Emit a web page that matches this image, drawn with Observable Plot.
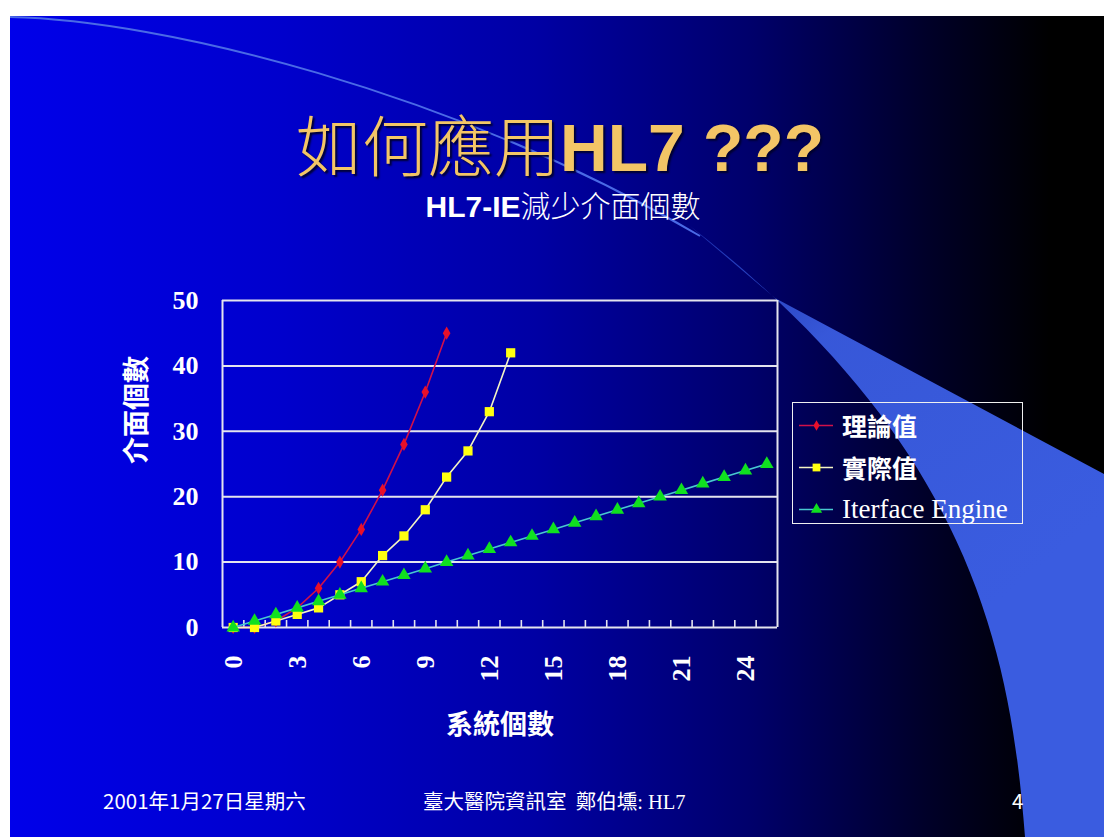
<!DOCTYPE html>
<html>
<head>
<meta charset="utf-8">
<script src="https://cdn.jsdelivr.net/npm/d3@7"></script>
<script src="https://cdn.jsdelivr.net/npm/@observablehq/plot@0.6"></script>
<style>
  html, body { margin: 0; padding: 0; background: #ffffff; }
  #page { position: relative; width: 1104px; height: 837px; overflow: hidden; background: #ffffff; }
  #slide {
    position: absolute; left: 10px; top: 16px; width: 1094px; height: 821px;
    background: linear-gradient(to right, #0000ea 0%, #0000cc 25%, #0000a4 48%, #00006a 68%, #000028 84%, #000000 95%);
  }
  #decor { position: absolute; left: 0; top: 0; }
  .txt { position: absolute; color: #ffffff; white-space: nowrap; }
  #title {
    left: 0; width: 1120px; top: 100px; text-align: center;
    font-size: 66px; line-height: 84px; color: #f3c566;
    text-shadow: 2px 2px 2px #000030;
  }
  #title .zh { font-family: "Noto Sans CJK TC"; font-weight: 300; }
  #title .en { font-family: "Liberation Sans", Arial, sans-serif; font-weight: bold; }
  #subtitle {
    left: 0; width: 1126px; top: 185px; text-align: center;
    font-size: 30px; line-height: 38px;
  }
  #subtitle .en { font-family: "Liberation Sans", Arial, sans-serif; font-weight: bold; }
  #subtitle .zh { font-family: "Noto Sans CJK TC"; font-weight: 300; }
  #chart { position: absolute; left: 0; top: 0; }
  #legend {
    position: absolute; left: 792px; top: 402px; width: 231px; height: 122px;
    border: 1.5px solid #f0f0f0; box-sizing: border-box;
  }
  #legend .row { position: absolute; left: 6px; height: 36px; display: flex; align-items: center; }
  #legend .lab { margin-left: 9px; color: #fff; font-size: 25px; }
  #legend .zh { font-family: "Noto Sans CJK TC"; font-weight: bold; }
  #legend .en { font-family: "Liberation Serif", serif; font-size: 27px; }
  .foot { top: 786px; font-size: 20.5px; line-height: 28px; font-family: "Noto Sans CJK TC"; }
</style>
</head>
<body>
<div id="page">
  <div id="slide"></div>
  <svg id="decor" width="1104" height="837">
    <defs>
      <clipPath id="slideClip"><rect x="10" y="16" width="1094" height="821"></rect></clipPath>
      <linearGradient id="swooshFill" x1="690" y1="225" x2="1000" y2="600" gradientUnits="userSpaceOnUse">
        <stop offset="0" stop-color="#3356dd" stop-opacity="0.55"></stop>
        <stop offset="0.35" stop-color="#3a5ce0" stop-opacity="0.95"></stop>
        <stop offset="1" stop-color="#3a5ce0" stop-opacity="1"></stop>
      </linearGradient>
    </defs>
    <g clip-path="url(#slideClip)">
      <path d="M10,17 C160,20 450,90 700,236" fill="none" stroke="#4a6ae6" stroke-width="2"></path>
      <path d="M690,226 L775,298 L1104,474 L1104,837 L1025,837 C1010,640 965,440 690,226 Z" fill="url(#swooshFill)"></path>
    </g>
  </svg>
  <div id="title" class="txt"><span class="zh">如何應用</span><span class="en">HL7 ???</span></div>
  <div id="subtitle" class="txt"><span class="en">HL7-IE</span><span class="zh">減少介面個數</span></div>
  <div id="chart"></div>
  <div id="legend"></div>
  <div class="txt foot" style="left:103px;">2001年1月27日星期六</div>
  <div class="txt foot" style="left:423px;">臺大醫院資訊室&nbsp; 鄭伯壎<span style="font-family:'Liberation Serif'">: HL7</span></div>
  <div class="txt foot" style="left:1012px;">4</div>
</div>
<script>
// Number of systems on the x axis (categories)
const systems = [0, 1, 2, 3, 4, 5, 6, 7, 8, 9, 10, 11, 12, 13, 14, 15, 16, 17, 18, 19, 20, 21, 22, 23, 24, 25];
// Theoretical point-to-point interface count
const theoretical = [0, 0, 1, 3, 6, 10, 15, 21, 28, 36, 45];
// Actual interface count
const actual = [0, 0, 1, 2, 3, 5, 7, 11, 14, 18, 23, 27, 33, 42];
// Interface count through an interface engine
const engine = [0, 1, 2, 3, 4, 5, 6, 7, 8, 9, 10, 11, 12, 13, 14, 15, 16, 17, 18, 19, 20, 21, 22, 23, 24, 25];

const xTickLabels = [0, 3, 6, 9, 12, 15, 18, 21, 24];
const yTicks = [0, 10, 20, 30, 40, 50];

const seriesNames = ["理論值", "實際值", "Iterface Engine"];
const seriesColors = { line: ["#d0104a", "#f4f4c4", "#48c8d0"], mark: ["#e8102a", "#ffff10", "#10e020"] };
const seriesSymbols = ["diamond", "square", "triangle"];
const seriesR = [4, 5.2, 5];

const toRows = (vals) => vals.map((v, i) => ({ n: systems[i], v }));
const series = [toRows(theoretical), toRows(actual), toRows(engine)];

// Category boundaries: tick marks sit between categories
const boundaries = systems.slice(1).map((c) => c - 0.5);
const xDomain = [systems[0] - 0.5, systems[systems.length - 1] + 0.5];
const yDomain = [0, 50];

// plot frame in pixels
const frame = { left: 222, right: 777, top: 300, bottom: 627 };
const tickLenPx = 7;
const tickLen = tickLenPx * (yDomain[1] - yDomain[0]) / (frame.bottom - frame.top);

const gridStroke = "#e4e4ee";

const marks = [
  Plot.gridY(yTicks.slice(1), { stroke: gridStroke, strokeOpacity: 1, strokeWidth: 2 }),
  Plot.ruleX(xDomain, { stroke: gridStroke, strokeWidth: 2 }),
  Plot.ruleY([0], { stroke: gridStroke, strokeWidth: 2 }),
  // inward tick marks on the category axis
  Plot.ruleX(boundaries, { y1: 0, y2: tickLen, stroke: gridStroke, strokeWidth: 1.6 }),
  Plot.axisX({ ticks: xTickLabels, tickSize: 0, tickRotate: -90, tickPadding: 28, fontSize: 26, fontWeight: "bold", fill: "#ffffff", label: null }),
  Plot.axisY({ ticks: yTicks, tickSize: 0, tickPadding: 24, fontSize: 26, fontWeight: "bold", fill: "#ffffff", label: null }),
  Plot.text(["系統個數"], { frameAnchor: "bottom", dy: 106, fontSize: 27, fontWeight: "bold", fontFamily: "Noto Sans CJK TC", fill: "#ffffff" }),
  Plot.text(["介面個數"], { frameAnchor: "left", dx: -85, rotate: -90, fontSize: 27, fontWeight: "bold", fontFamily: "Noto Sans CJK TC", fill: "#ffffff" })
];

series.forEach((rows, k) => {
  marks.push(Plot.line(rows, { x: "n", y: "v", stroke: seriesColors.line[k], strokeWidth: 1.6 }));
  marks.push(Plot.dot(rows, { x: "n", y: "v", symbol: seriesSymbols[k], r: seriesR[k], fill: seriesColors.mark[k], stroke: "none" }));
});

const chart = Plot.plot({
  width: 1104,
  height: 760,
  marginLeft: frame.left,
  marginRight: 1104 - frame.right,
  marginTop: frame.top,
  marginBottom: 760 - frame.bottom,
  style: { background: "transparent", color: "#ffffff", fontFamily: "'Liberation Serif', serif", fontSize: "26px", overflow: "visible" },
  x: { type: "linear", domain: xDomain },
  y: { type: "linear", domain: yDomain },
  marks
});
document.getElementById("chart").appendChild(chart);

// Legend rows with small line + marker swatches
const legend = document.getElementById("legend");
const rowTops = [4, 46, 88];
seriesNames.forEach((name, k) => {
  const row = document.createElement("div");
  row.className = "row";
  row.style.top = rowTops[k] + "px";
  const sw = Plot.plot({
    width: 34, height: 20, margin: 0,
    style: { background: "transparent", overflow: "visible" },
    x: { domain: [0, 1], axis: null }, y: { domain: [0, 1], axis: null },
    marks: [
      Plot.ruleY([0.5], { x1: 0, x2: 1, stroke: seriesColors.line[k], strokeWidth: 1.6 }),
      Plot.dot([0.5], { x: (d) => d, y: 0.5, symbol: seriesSymbols[k], r: seriesR[k] - 0.8, fill: seriesColors.mark[k] })
    ]
  });
  row.appendChild(sw);
  const lab = document.createElement("span");
  lab.className = "lab " + (k === 2 ? "en" : "zh");
  lab.textContent = name;
  row.appendChild(lab);
  legend.appendChild(row);
});
</script>
</body>
</html>
